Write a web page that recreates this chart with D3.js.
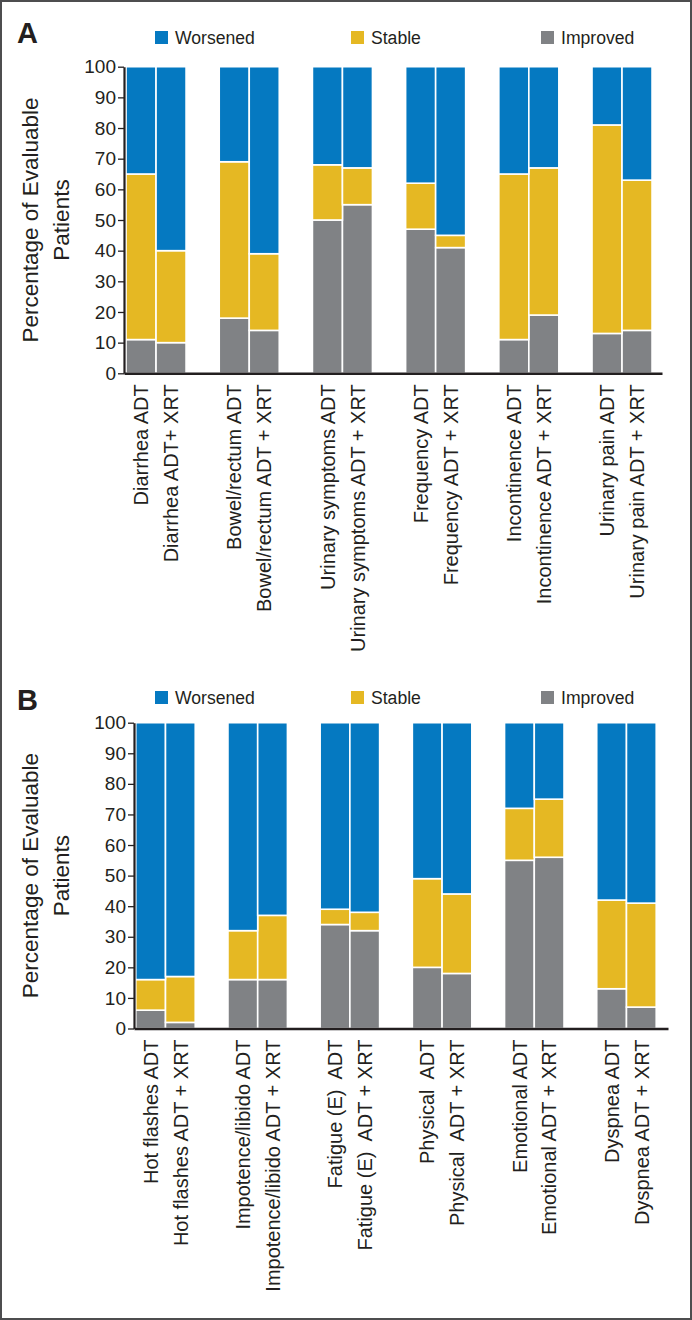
<!DOCTYPE html>
<html>
<head>
<meta charset="utf-8">
<script src="https://cdn.jsdelivr.net/npm/d3@7/dist/d3.min.js"></script>
<style>
  html, body { margin: 0; padding: 0; background: #fff; }
  svg { display: block; }
  text { font-family: "Liberation Sans", Arial, Helvetica, sans-serif; fill: #231f20; }
</style>
</head>
<body>
<svg id="chart" width="692" height="1320"></svg>
<script>
// ---------- DATA ----------
const seriesNames = ["Worsened", "Stable", "Improved"];
const seriesColors = ["#0579c1", "#e5b823", "#808285"];
const yTicks = [0, 10, 20, 30, 40, 50, 60, 70, 80, 90, 100];

// Panel A
const groupsA = ["Diarrhea", "Bowel/rectum", "Urinary symptoms", "Frequency", "Incontinence", "Urinary pain"];
const labelsA = [
  "Diarrhea ADT", "Diarrhea ADT+ XRT",
  "Bowel/rectum ADT", "Bowel/rectum ADT + XRT",
  "Urinary symptoms ADT", "Urinary symptoms ADT + XRT",
  "Frequency ADT", "Frequency ADT + XRT",
  "Incontinence ADT", "Incontinence ADT + XRT",
  "Urinary pain ADT", "Urinary pain ADT + XRT"
];
const improvedA = [11, 10, 18, 14, 50, 55, 47, 41, 11, 19, 13, 14];
const stableA   = [54, 30, 51, 25, 18, 12, 15, 4, 54, 48, 68, 49];
const worsenedA = [35, 60, 31, 61, 32, 33, 38, 55, 35, 33, 19, 37];

// Panel B
const groupsB = ["Hot flashes", "Impotence/libido", "Fatigue (E)", "Physical", "Emotional", "Dyspnea"];
const labelsB = [
  "Hot flashes ADT", "Hot flashes ADT + XRT",
  "Impotence/libido ADT", "Impotence/libido ADT + XRT",
  "Fatigue (E)  ADT", "Fatigue (E)  ADT + XRT",
  "Physical  ADT", "Physical  ADT + XRT",
  "Emotional ADT", "Emotional ADT + XRT",
  "Dyspnea ADT", "Dyspnea ADT + XRT"
];
const improvedB = [6, 2, 16, 16, 34, 32, 20, 18, 55, 56, 13, 7];
const stableB   = [10, 15, 16, 21, 5, 6, 29, 26, 17, 19, 29, 34];
const worsenedB = [84, 83, 68, 63, 61, 62, 51, 56, 28, 25, 58, 59];

// ---------- DRAW ----------
const svg = d3.select("#chart");

svg.append("rect")
  .attr("x", 1).attr("y", 1).attr("width", 690).attr("height", 1318)
  .attr("fill", "none").attr("stroke", "#4d4d4f").attr("stroke-width", 2);

function panel(cfg) {
  const g = svg.append("g");
  const y = d3.scaleLinear().domain([0, 100]).range([cfg.y0, cfg.y100]);
  const outer = d3.scaleBand().domain(cfg.groups).range([cfg.axisX, cfg.axisEnd])
    .paddingInner(cfg.padInner).paddingOuter(cfg.padOuter).align(cfg.align);
  const inner = d3.scaleBand().domain([0, 1]).range([0, outer.bandwidth()]);
  const color = d3.scaleOrdinal().domain(seriesNames).range(seriesColors);

  // panel letter
  g.append("text").attr("x", 17).attr("y", cfg.letterY)
    .style("font-size", "29px").style("font-weight", "bold").text(cfg.letter);

  // legend
  const legX = [155, 351, 541];
  seriesNames.forEach((s, i) => {
    g.append("rect").attr("x", legX[i]).attr("y", cfg.legY).attr("width", 13).attr("height", 13)
      .attr("fill", color(s));
    g.append("text").attr("x", legX[i] + 20).attr("y", cfg.legY + 13)
      .style("font-size", "17.6px").text(s);
  });

  // bars
  const rows = cfg.labels.map((lab, i) => ({
    label: lab, group: cfg.groups[Math.floor(i / 2)], idx: i % 2,
    Improved: cfg.improved[i], Stable: cfg.stable[i], Worsened: cfg.worsened[i]
  }));
  const stack = d3.stack().keys(["Improved", "Stable", "Worsened"]);
  const layers = stack(rows);
  layers.forEach(layer => {
    g.append("g").selectAll("rect").data(layer).join("rect")
      .attr("x", d => outer(d.data.group) + inner(d.data.idx))
      .attr("width", inner.bandwidth())
      .attr("y", d => y(d[1]))
      .attr("height", d => y(d[0]) - y(d[1]))
      .attr("fill", color(layer.key))
      .attr("stroke", "#ffffff").attr("stroke-width", 1.6);
  });

  // y axis
  const yAxis = d3.axisLeft(y).tickValues(yTicks).tickSize(6).tickSizeOuter(0).tickPadding(2);
  const ya = g.append("g").attr("transform", `translate(${cfg.axisX},0)`).call(yAxis);
  ya.select(".domain").attr("stroke", "#231f20").attr("stroke-width", 2.2);
  ya.selectAll(".tick line").attr("stroke", "#231f20").attr("stroke-width", 1.3);
  ya.selectAll(".tick text").style("font-size", "19px").attr("fill", "#231f20")
    .style("font-family", "'Liberation Sans', Arial, sans-serif");

  // x axis line
  const xAxisScale = d3.scaleLinear().domain([0, 1]).range([cfg.axisX, cfg.axisEnd]);
  const xa = g.append("g").attr("transform", `translate(0,${y(0)})`)
    .call(d3.axisBottom(xAxisScale).tickValues([]).tickSizeOuter(0));
  xa.select(".domain").attr("stroke", "#231f20").attr("stroke-width", 2.4);

  // x labels
  g.append("g").selectAll("text").data(rows).join("text")
    .attr("transform", d => `translate(${outer(d.group) + inner(d.idx) + inner.bandwidth() / 2},${y(0) + 11}) rotate(-90)`)
    .attr("text-anchor", "end").attr("dy", "0.36em")
    .style("font-size", "20px").style("white-space", "pre")
    .text(d => d.label);

  // y title
  const cy = (cfg.y0 + cfg.y100) / 2;
  g.append("text").attr("transform", `translate(38,${cy}) rotate(-90)`)
    .attr("text-anchor", "middle").style("font-size", "22.5px").text("Percentage of Evaluable");
  g.append("text").attr("transform", `translate(69,${cy}) rotate(-90)`)
    .attr("text-anchor", "middle").style("font-size", "22.5px").text("Patients");
}

panel({
  letter: "A", letterY: 43, legY: 31,
  groups: groupsA, labels: labelsA,
  improved: improvedA, stable: stableA, worsened: worsenedA,
  y0: 373.3, y100: 66.7, axisX: 124, axisEnd: 662,
  padInner: 0.356, padOuter: 0.0644, align: 0.17
});

panel({
  letter: "B", letterY: 710, legY: 691,
  groups: groupsB, labels: labelsB,
  improved: improvedB, stable: stableB, worsened: worsenedB,
  y0: 1028.5, y100: 722.7, axisX: 134, axisEnd: 668,
  padInner: 0.355, padOuter: 0.0735, align: 0.13
});
</script>
</body>
</html>
